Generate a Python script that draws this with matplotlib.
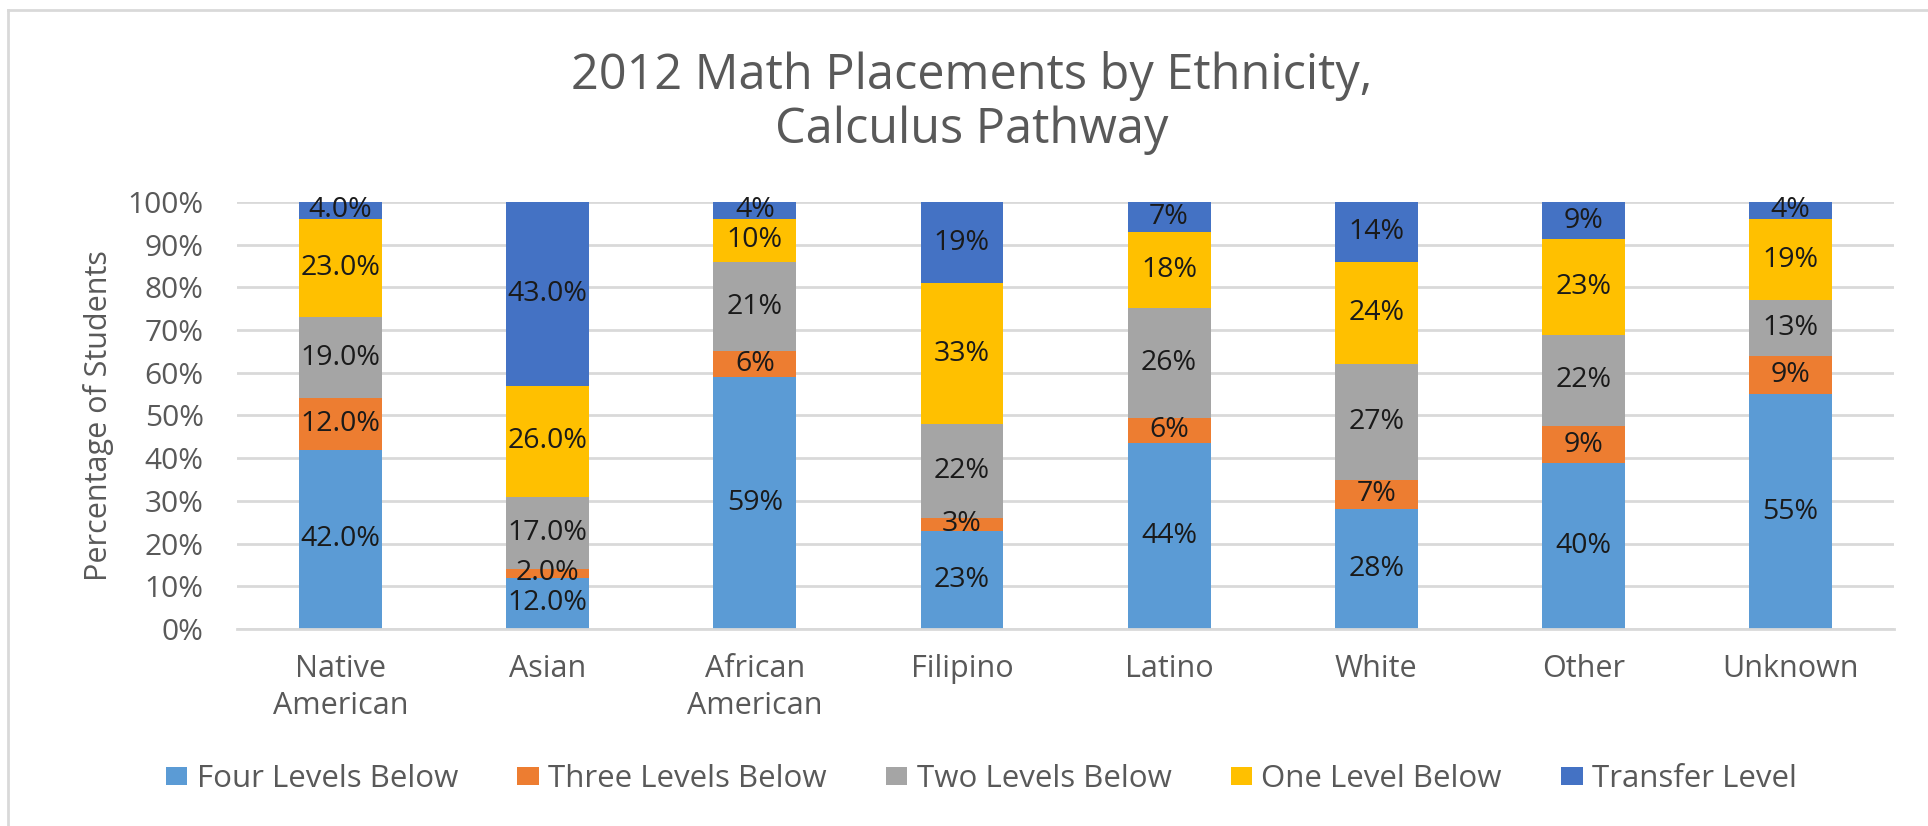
import numpy as np
import matplotlib.pyplot as plt

plt.rcParams['font.family'] = ['Open Sans', 'DejaVu Sans']

# data
groups = ['Native\nAmerican', 'Asian', 'African\nAmerican', 'Filipino',
          'Latino', 'White', 'Other', 'Unknown']
series = ['Four Levels Below', 'Three Levels Below', 'Two Levels Below',
          'One Level Below', 'Transfer Level']
four_below = [42, 12, 59, 23, 44, 28, 40, 55]
three_below = [12, 2, 6, 3, 6, 7, 9, 9]
two_below = [19, 17, 21, 22, 26, 27, 22, 13]
one_below = [23, 26, 10, 33, 18, 24, 23, 19]
transfer = [4, 43, 4, 19, 7, 14, 9, 4]
label_decimals = [1, 1, 0, 0, 0, 0, 0, 0]

colors = ['#5B9BD5', '#ED7D31', '#A5A5A5', '#FFC000', '#4472C4']
text_grey = '#595959'

values = np.array([four_below, three_below, two_below, one_below, transfer], dtype=float)
totals = values.sum(axis=0)
shares = values / totals * 100  # 100% stacked

fig = plt.figure(figsize=(19.28, 8.26), dpi=100)
ax = fig.add_axes([0.1229, 0.2385, 0.8595, 0.517])

x = np.arange(len(groups))
bottom = np.zeros(len(groups))
for i, name in enumerate(series):
    bars = ax.bar(x, shares[i], 0.4, bottom=bottom, color=colors[i], label=name, zorder=2)
    labels = [f'{v:.{d}f}%' for v, d in zip(values[i], label_decimals)]
    ax.bar_label(bars, labels=labels, label_type='center', fontsize=20.5, color='#1a1a1a')
    bottom += shares[i]

ax.set_xlim(-0.5, len(groups) - 0.5)
ax.set_ylim(0, 100)
ax.set_yticks(np.arange(0, 101, 10))
ax.set_yticklabels([f'{t}%' for t in range(0, 101, 10)])
ax.set_xticks(x)
ax.set_xticklabels(groups, linespacing=1.32)
ax.tick_params(axis='y', length=0, pad=24, labelsize=21.5, labelcolor=text_grey)
ax.tick_params(axis='x', length=0, pad=18, labelsize=22, labelcolor=text_grey)
ax.grid(axis='y', color='#D9D9D9', linewidth=2, zorder=0)
for side in ['top', 'right', 'left']:
    ax.spines[side].set_visible(False)
ax.spines['bottom'].set_color('#D9D9D9')
ax.spines['bottom'].set_linewidth(2)

ax.set_ylabel('Percentage of Students', fontsize=22, color=text_grey, labelpad=10)

fig.text(0.504, 0.908, '2012 Math Placements by Ethnicity,', ha='center', va='center',
         fontsize=35, color=text_grey)
fig.text(0.504, 0.842, 'Calculus Pathway', ha='center', va='center',
         fontsize=35, color=text_grey)

fig.legend(loc='center', bbox_to_anchor=(0.509, 0.057), ncol=5, frameon=False,
           fontsize=22.5, labelcolor=text_grey, handlelength=0.68, handleheight=0.48,
           handletextpad=0.3, columnspacing=1.9)

# chart area border
fig.add_artist(plt.Line2D([0.0042, 0.0042], [0, 0.988], transform=fig.transFigure,
                          color='#D9D9D9', linewidth=2))
fig.add_artist(plt.Line2D([0.0042, 1], [0.988, 0.988], transform=fig.transFigure,
                          color='#D9D9D9', linewidth=2))

fig.savefig('out.png', dpi=100)
